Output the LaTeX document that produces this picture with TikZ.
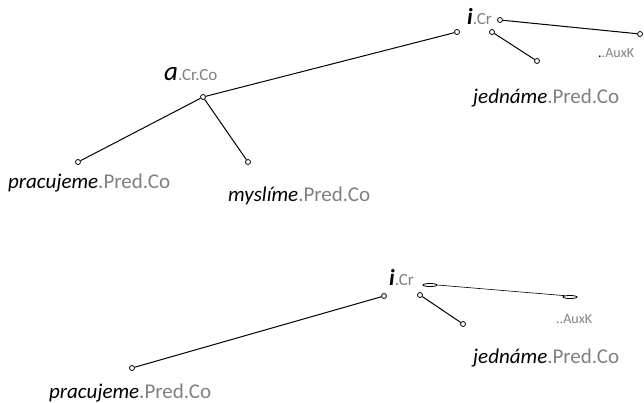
\documentclass[tikz,border=0pt]{standalone}
\usepackage{fontspec}
\setmainfont{Carlito}
\usetikzlibrary{shapes.geometric}
\definecolor{lblgray}{RGB}{128,128,128}
\tikzset{
  dot/.style={circle,draw=black,fill=white,line width=0.8pt,inner sep=0pt,minimum size=5pt},
  flat/.style={ellipse,draw=black,fill=white,line width=0.8pt,inner sep=0pt,minimum width=14pt,minimum height=3pt},
  edge/.style={line width=1pt,black},
  word/.style={anchor=base west,inner sep=0pt,font=\fontsize{21}{25}\selectfont},
  head/.style={anchor=base west,inner sep=0pt,font=\fontsize{27}{32}\selectfont},
  headi/.style={anchor=base west,inner sep=0pt,font=\fontsize{23}{28}\selectfont},
  aux/.style={anchor=base west,inner sep=0pt,font=\fontsize{14}{17}\selectfont,text=lblgray}
}
\newcommand{\gr}[1]{{\color{lblgray}#1}}
\newcommand{\sm}[1]{{\fontsize{17}{20}\selectfont\color{lblgray}#1}}
\begin{document}
\begin{tikzpicture}[x=1pt,y=-1pt]
\useasboundingbox (0,0) rectangle (644,402);
% ---------- top tree ----------
\node[headi] (ti) at (467,24) {\textbf{\textit{i}}\sm{.Cr}};
\node[head] (ta) at (164,80) {\textit{a}\sm{.Cr.Co}};
\node[word] (tp) at (8,188) {\textit{pracujeme}\gr{.Pred.Co}};
\node[word] (tm) at (228,201) {\textit{myslíme}\gr{.Pred.Co}};
\node[word] (tj) at (473,103) {\textit{jednáme}\gr{.Pred.Co}};
\node[aux] (tk) at (598,57) {{\color{black}.}.AuxK};
\node[dot] (ta0) at (203,97) {};
\node[dot] (ti1) at (457,32) {};
\node[dot] (ti2) at (500,20) {};
\node[dot] (tk1) at (640,34) {};
\node[dot] (ti3) at (492,32) {};
\node[dot] (tj1) at (537,61) {};
\node[dot] (tp1) at (78,162) {};
\node[dot] (tm1) at (248,162) {};
\draw[edge] (ta0) -- (ti1);
\draw[edge] (ti2) -- (tk1);
\draw[edge] (ti3) -- (tj1);
\draw[edge] (ta0) -- (tp1);
\draw[edge] (ta0) -- (tm1);
% ---------- bottom tree ----------
\node[headi] (bi) at (389,285) {\textbf{\textit{i}}\sm{.Cr}};
\node[word] (bj) at (473,363) {\textit{jednáme}\gr{.Pred.Co}};
\node[word] (bp) at (49,398) {\textit{pracujeme}\gr{.Pred.Co}};
\node[aux] (bk) at (556,323) {..AuxK};
\node[dot] (bi1) at (384,296) {};
\node[dot] (bp1) at (132,368) {};
\node[flat] (bi2) at (430,285) {};
\node[flat] (bk1) at (570,297) {};
\node[dot] (bi3) at (420,295) {};
\node[dot] (bj1) at (463,324) {};
\draw[edge] (bi1) -- (bp1);
\draw[edge,line width=0.6pt] (bi2.east) -- (bk1.north west);
\draw[edge] (bi3) -- (bj1);
\end{tikzpicture}
\end{document}
